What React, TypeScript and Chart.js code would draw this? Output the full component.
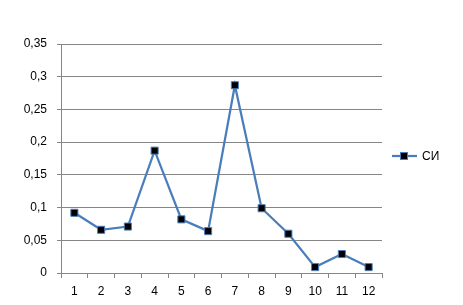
import React, { useEffect, useRef } from "react";
import { Chart, registerables } from "chart.js";

Chart.register(...registerables);

const categories = ["1", "2", "3", "4", "5", "6", "7", "8", "9", "10", "11", "12"];
const seriesName = "СИ";
const seriesValues = [0.092, 0.066, 0.071, 0.187, 0.082, 0.064, 0.287, 0.099, 0.06, 0.009, 0.029, 0.009];
const yTickLabels = ["0", "0,05", "0,1", "0,15", "0,2", "0,25", "0,3", "0,35"];

const LINE = "#4A7EBB";
const FONT = "'Liberation Sans', Arial, sans-serif";

const legendPlugin = {
  id: "customLegend",
  afterDraw(chart: any) {
    const ctx = chart.ctx;
    const y = 156;
    ctx.save();
    ctx.strokeStyle = LINE;
    ctx.lineWidth = 2.25;
    ctx.beginPath();
    ctx.moveTo(392, y);
    ctx.lineTo(417, y);
    ctx.stroke();
    ctx.fillStyle = "#000";
    ctx.fillRect(400.5, y - 3.5, 7, 7);
    ctx.strokeStyle = LINE;
    ctx.lineWidth = 1;
    ctx.strokeRect(400.5, y - 3.5, 7, 7);
    ctx.fillStyle = "#000";
    ctx.font = "12px " + FONT;
    ctx.textBaseline = "middle";
    ctx.textAlign = "left";
    ctx.fillText(seriesName, 422, y + 1);
    ctx.restore();
  },
};

export default function App() {
  const ref = useRef<HTMLCanvasElement>(null);
  useEffect(() => {
    document.body.style.margin = "0";
    const chart = new Chart(ref.current!, {
      type: "line",
      data: {
        labels: categories,
        datasets: [
          {
            label: seriesName,
            data: seriesValues,
            borderColor: LINE,
            borderWidth: 2.25,
            pointStyle: "rect",
            pointRadius: 5,
            pointBackgroundColor: "#000",
            pointBorderColor: LINE,
            pointBorderWidth: 1,
            tension: 0,
          },
        ],
      },
      options: {
        animation: false,
        responsive: false,
        layout: { padding: { left: 0, top: 44, right: 81, bottom: 0 } },
        plugins: { legend: { display: false }, tooltip: { enabled: false } },
        scales: {
          x: {
            offset: true,
            grid: {
              offset: true,
              drawOnChartArea: false,
              drawTicks: true,
              tickLength: 5,
              color: "#868686",
            },
            border: { color: "#868686" },
            ticks: { color: "#000", font: { family: FONT, size: 12 }, padding: 6, maxRotation: 0 },
            afterFit(s: any) {
              s.height = 32;
            },
          },
          y: {
            min: 0,
            max: 0.35,
            ticks: {
              stepSize: 0.05,
              color: "#000",
              font: { family: FONT, size: 12 },
              padding: 10,
              callback: (v: any) => yTickLabels[Math.round(Number(v) / 0.05)],
            },
            grid: { color: "#868686", tickLength: 4 },
            border: { color: "#868686" },
            afterFit(s: any) {
              s.width = 61;
            },
          },
        },
      },
      plugins: [legendPlugin],
    });
    return () => chart.destroy();
  }, []);
  return (
    <div style={{ position: "absolute", left: 0, top: 0, width: 463, height: 305, background: "#fff" }}>
      <canvas ref={ref} width={463} height={305} style={{ width: 463, height: 305 }} />
    </div>
  );
}
